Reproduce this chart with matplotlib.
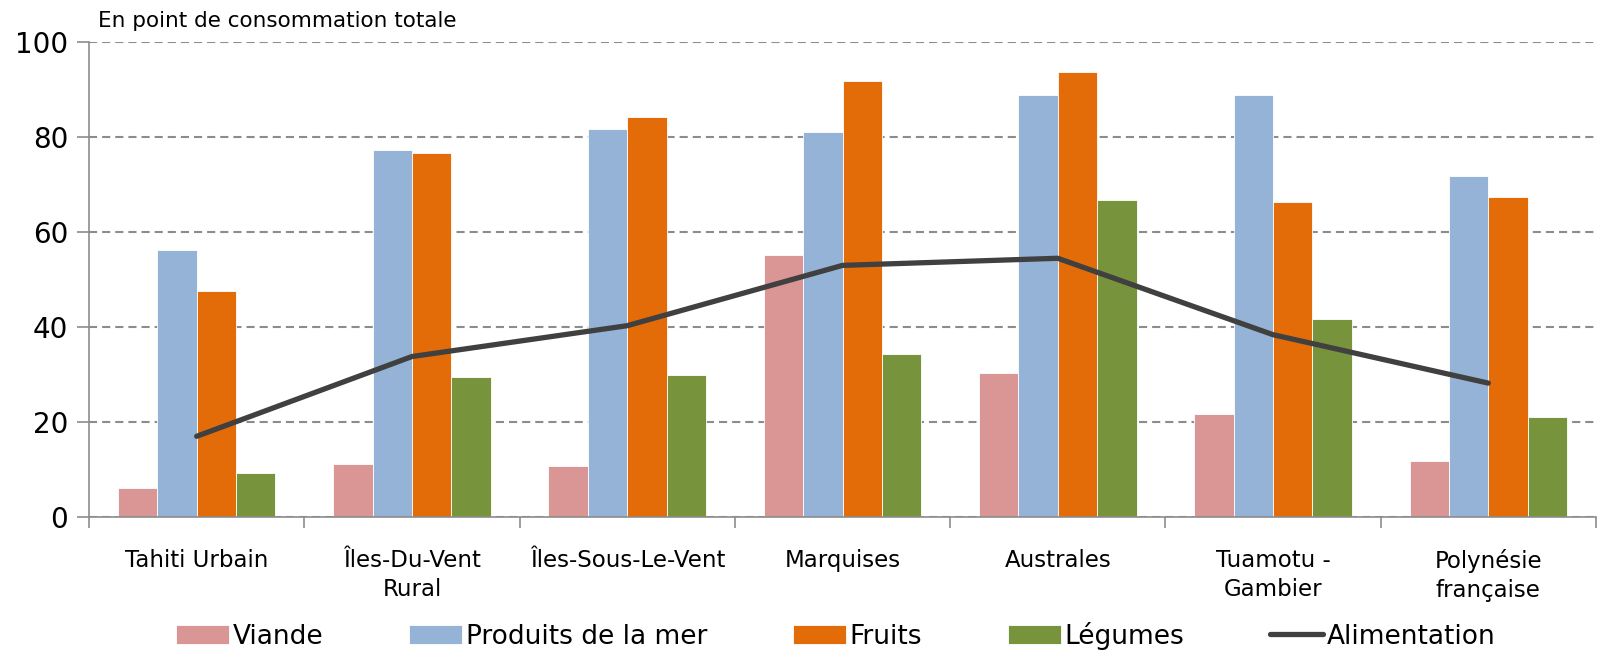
import matplotlib.pyplot as plt
import numpy as np

categories = ["Tahiti Urbain", "Îles-Du-Vent\nRural", "Îles-Sous-Le-Vent", "Marquises",
              "Australes", "Tuamotu -\nGambier", "Polynésie\nfrançaise"]
viande = [6.1, 11.2, 10.8, 55.1, 30.3, 21.6, 11.9]
produits_mer = [56.3, 77.3, 81.7, 81.2, 88.8, 88.8, 71.9]
fruits = [47.5, 76.6, 84.3, 91.9, 93.7, 66.3, 67.5]
legumes = [9.3, 29.4, 30.0, 34.4, 66.7, 41.7, 21.1]
alimentation = [17.0, 33.8, 40.3, 53.0, 54.5, 38.4, 28.2]

series = [("Viande", viande, "#D99694"),
          ("Produits de la mer", produits_mer, "#95B3D7"),
          ("Fruits", fruits, "#E36C09"),
          ("Légumes", legumes, "#77933C")]

plt.rcParams['font.family'] = ['DejaVu Sans']

fig = plt.figure(figsize=(16.04, 6.5), dpi=100)
ax = fig.add_axes([0.0555, 0.2046, 0.9395, 0.7304])

x = np.arange(len(categories))
w = 0.183
handles = []
for i, (name, vals, col) in enumerate(series):
    b = ax.bar(x + (i - 1.5) * w, vals, w, color=col, edgecolor="white", linewidth=0.6,
               label=name, zorder=2)
    handles.append(b)

ln, = ax.plot(x, alimentation, color="#404040", linewidth=3.8, label="Alimentation",
              zorder=3, solid_capstyle="round")
handles.append(ln)

ax.set_xlim(-0.5, len(categories) - 0.5)
ax.set_ylim(0, 100)
ax.set_yticks([0, 20, 40, 60, 80, 100])
ax.yaxis.grid(True, linestyle=(0, (3.9, 2.4)), color="#8C8C8C", linewidth=1.5, zorder=0)
ax.set_axisbelow(True)

ax.set_xticks(x)
ax.set_xticklabels(categories, fontsize=16.5, linespacing=1.35)
ax.set_xticks(np.arange(-0.5, len(categories), 1), minor=True)
ax.tick_params(axis="x", which="major", length=0, pad=23)
ax.tick_params(axis="x", which="minor", length=8, color="#8C8C8C", width=1.2)
ax.tick_params(axis="y", length=9, color="#8C8C8C", width=1.2, labelsize=20, pad=6)

for s in ["top", "right"]:
    ax.spines[s].set_visible(False)
for s in ["left", "bottom"]:
    ax.spines[s].set_color("#8C8C8C")
    ax.spines[s].set_linewidth(1.2)

fig.text(0.0612, 0.968, "En point de consommation totale", fontsize=15.5, va="center")

fig.legend(handles=handles, labels=[h.get_label() for h in handles],
           loc="center", bbox_to_anchor=(0.521, 0.022), ncol=5, frameon=False,
           fontsize=19, handlelength=2.0, handleheight=0.75, handletextpad=0.15,
           columnspacing=3.25)

fig.savefig("out.png", dpi=100)
